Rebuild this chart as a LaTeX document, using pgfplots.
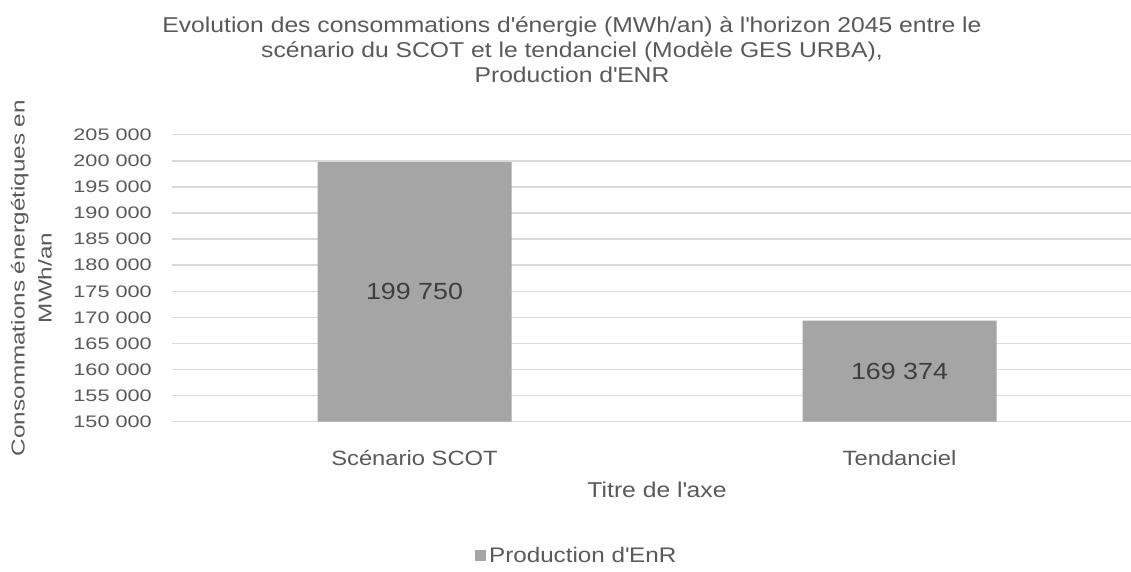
\documentclass[border=0pt]{standalone}
\usepackage{pgfplots}
\pgfplotsset{compat=1.18}
\usepackage{fontspec}
\setmainfont{Liberation Sans}[FakeStretch=1.15]
\newfontfamily\widefont{Liberation Sans}[FakeStretch=1.3]
\definecolor{txt}{HTML}{595959}
\definecolor{barc}{HTML}{A5A5A5}
\definecolor{gridc}{HTML}{D9D9D9}
\begin{document}
\begin{tikzpicture}
\begin{axis}[
  at={(0,0)}, anchor=south west,
  scale only axis, width=727.5pt, height=215.25pt,
  xmin=-0.5, xmax=1.5, ymin=150000, ymax=205000,
  ytick={150000,155000,...,205000},
  scaled y ticks=false,
  xtick={0,1}, xticklabels={Scénario SCOT, Tendanciel},
  axis line style={draw=none},
  major tick length=0pt,
  ymajorgrids, grid style={gridc, line width=1.1pt},
  /pgf/number format/assume math mode=true,
  yticklabel style={/pgf/number format/.cd, fixed, precision=0, 1000 sep={\ }, /tikz/.cd,
    font=\widefont\fontsize{12.5}{14}\selectfont, text=txt, anchor=east, inner sep=0pt, xshift=-15pt},
  xticklabel style={font=\fontsize{15.5}{18}\selectfont, text=txt, anchor=center, inner sep=0pt, yshift=-27.2pt},
  legend style={at={(303.75pt,-100.7pt)}, anchor=center, draw=none, fill=none,
    font=\fontsize{15.8}{18}\selectfont, text=txt, inner sep=0pt,
    /tikz/every even column/.append style={column sep=1pt}},
  legend image code/.code={\fill[barc] (0cm,-0.13cm) rectangle (0.3cm,0.17cm);},
  clip=false,
]
\addplot[ybar, bar width=0.4, fill=barc, draw=none, bar shift=0pt] coordinates {(0,199750) (1,169374)};
\addlegendentry{Production d\textquotesingle EnR}
\addplot[draw=none, mark=none, forget plot, nodes near coords, point meta=explicit symbolic,
  every node near coord/.style={anchor=center, font=\fontsize{17.5}{20}\selectfont, text=txt!70!black}]
  coordinates {(0,174875) [199 750] (1,159687) [169 374]};
\end{axis}
\node[align=center, text=txt, font=\fontsize{16.1}{18.75}\selectfont] at (300pt,278.8pt)
  {Evolution des consommations d\textquotesingle énergie (MWh/an) à l\textquotesingle horizon 2045 entre le\\scénario du SCOT et le tendanciel (Modèle GES URBA),\\Production d\textquotesingle ENR};
\node[text=txt, font=\fontsize{16.1}{19}\selectfont] at (363.75pt,-51.2pt) {Titre de l\textquotesingle axe};
\node[rotate=90, align=center, text=txt, font=\widefont\fontsize{14}{20.25}\selectfont] at (-105.4pt,107.8pt)
  {Consommations énergétiques en\\MWh/an};
\pgfresetboundingbox
\path[use as bounding box] (-129pt,-112pt) rectangle (719.25pt,316.3pt);
\end{tikzpicture}
\end{document}
